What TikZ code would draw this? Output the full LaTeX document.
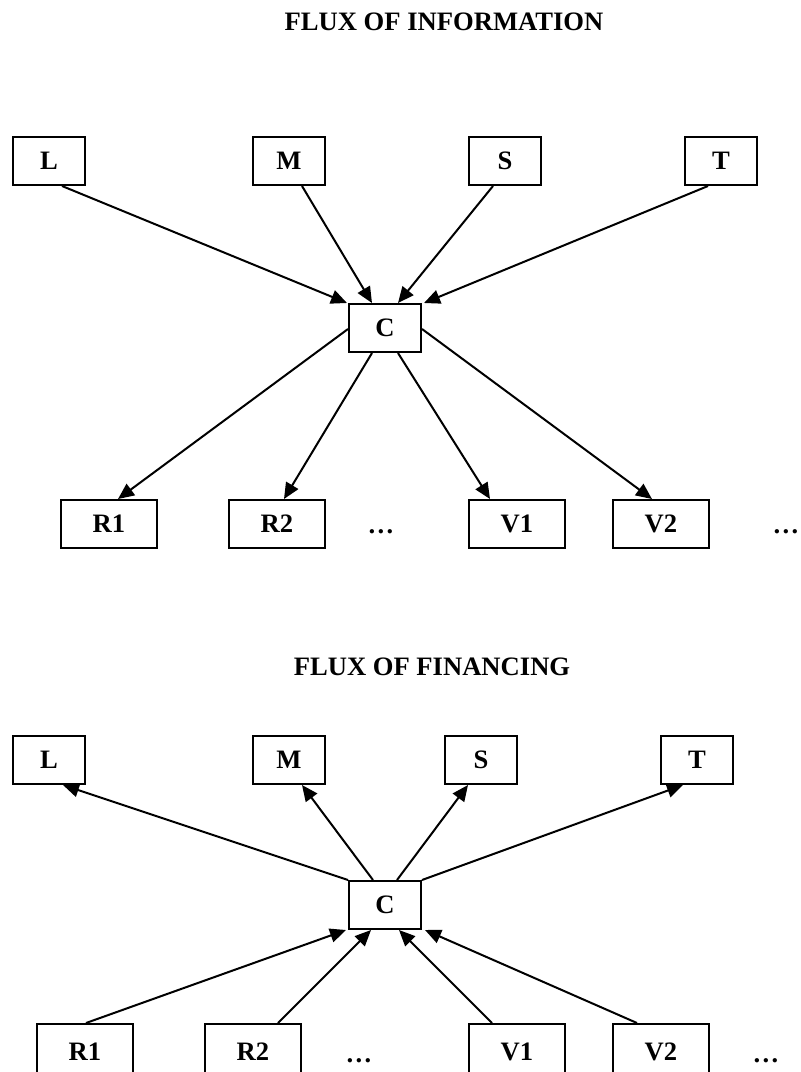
\documentclass[tikz,border=0pt]{standalone}
\usepackage{fontspec}
\setmainfont{Liberation Serif}
\usetikzlibrary{arrows.meta, calc}
\tikzset{
  box/.style   = {rectangle, draw=black, line width=1pt, fill=white,
                  minimum width=36pt, minimum height=24pt, inner sep=0pt,
                  font=\bfseries\fontsize{13.3}{15}\selectfont},
  wbox/.style  = {box, minimum width=48pt},
  tbox/.style  = {wbox, minimum height=28pt},
  dots/.style  = {anchor=base, inner sep=0pt, font=\bfseries\fontsize{13.3}{15}\selectfont},
  ttl/.style   = {inner sep=0pt, font=\bfseries\fontsize{13.3}{15}\selectfont},
  arr/.style   = {-{Triangle[length=8pt,width=7pt]}, line width=1pt, draw=black},
}
\begin{document}
\begin{tikzpicture}[x=0.5pt, y=-0.5pt]
  \useasboundingbox (0,0) rectangle (800,1072);

  % ── Flux of information ─────────────────────────────────────────
  \node[ttl] (ttlI) at (444, 22) {FLUX OF INFORMATION};

  \node[box]  (L1) at ( 49,161) {L};
  \node[box]  (M1) at (289,161) {M};
  \node[box]  (S1) at (505,161) {S};
  \node[box]  (T1) at (721,161) {T};

  \node[box]  (C1) at (385,328) {C};

  \node[wbox] (R1a) at (109,524) {R1};
  \node[wbox] (R2a) at (277,524) {R2};
  \node[dots] (d1a) at (381,533) {…};
  \node[wbox] (V1a) at (517,524) {V1};
  \node[wbox] (V2a) at (661,524) {V2};
  \node[dots] (d2a) at (786,533) {…};

  \draw[arr] ($(L1.south)+(13,0)$) -- ($(C1.north west)+(-1,0)$);
  \draw[arr] ($(M1.south)+(13,0)$) -- ($(C1.north)+(-13,0)$);
  \draw[arr] ($(S1.south)+(-12,0)$) -- ($(C1.north)+(13,0)$);
  \draw[arr] ($(T1.south)+(-13,0)$) -- ($(C1.north east)+(2,0)$);

  \draw[arr] ($(C1.west)+(0,1)$) -- ($(R1a.north)+(9,0)$);
  \draw[arr] ($(C1.south)+(-13,0)$) -- ($(R2a.north)+(7,0)$);
  \draw[arr] ($(C1.south)+(13,0)$) -- ($(V1a.north)+(-27,0)$);
  \draw[arr] ($(C1.east)+(0,1)$) -- ($(V2a.north)+(-9,0)$);

  % ── Flux of financing ───────────────────────────────────────────
  \node[ttl] (ttlF) at (432,667) {FLUX OF FINANCING};

  \node[box]  (L2) at ( 49,760) {L};
  \node[box]  (M2) at (289,760) {M};
  \node[box]  (S2) at (481,760) {S};
  \node[box]  (T2) at (697,760) {T};

  \node[box]  (C2) at (385,905) {C};

  \node[tbox] (R1b) at ( 85,1052) {R1};
  \node[tbox] (R2b) at (253,1052) {R2};
  \node[dots] (d1b) at (359,1062) {…};
  \node[tbox] (V1b) at (517,1052) {V1};
  \node[tbox] (V2b) at (661,1052) {V2};
  \node[dots] (d2b) at (766,1062) {…};

  \draw[arr] (C2.north west) -- ($(L2.south)+(14,0)$);
  \draw[arr] ($(C2.north)+(-12,0)$) -- ($(M2.south)+(13,0)$);
  \draw[arr] ($(C2.north)+(12,0)$) -- ($(S2.south)+(-13,0)$);
  \draw[arr] (C2.north east) -- ($(T2.south)+(-14,0)$);

  \draw[arr] ($(R1b.north)+(1,0)$) -- ($(C2.south west)+(-2,0)$);
  \draw[arr] ($(R2b.north)+(25,0)$) -- ($(C2.south)+(-14,0)$);
  \draw[arr] ($(V1b.north)+(-25,0)$) -- ($(C2.south)+(14,0)$);
  \draw[arr] ($(V2b.north)+(-24,0)$) -- ($(C2.south east)+(3,0)$);

\end{tikzpicture}
\end{document}
